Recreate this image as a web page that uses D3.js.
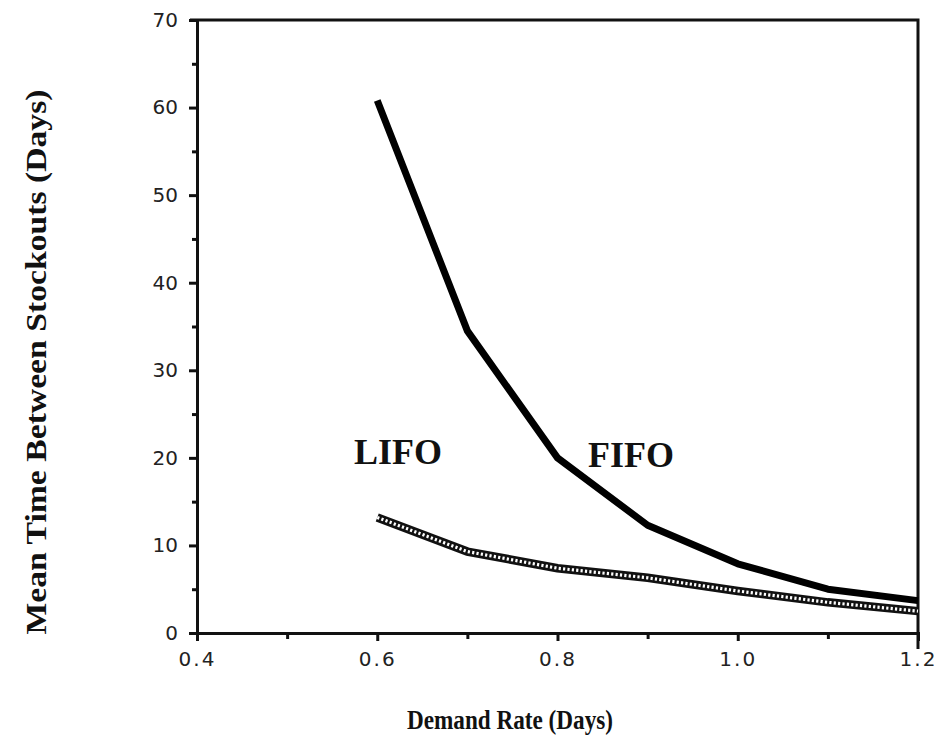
<!DOCTYPE html>
<html lang="en">
<head>
  <meta charset="UTF-8">
  <script src="https://cdn.jsdelivr.net/npm/d3@7"></script>
  <title>Stockouts</title>
  <style>
    body { margin: 0; background: white; }
    .tick text { font-family: "DejaVu Sans", sans-serif; font-size: 20px; fill: #222; }
    .title { font-family: "Liberation Serif", "Times New Roman", serif; font-weight: bold; fill: #111; }
  </style>
</head>
<body>
  <script>
    const demand = [0.6, 0.7, 0.8, 0.9, 1.0, 1.1, 1.2];
    const fifo = [60.8, 34.5, 20.0, 12.3, 7.9, 5.0, 3.7];
    const lifo = [13.2, 9.3, 7.4, 6.3, 4.8, 3.5, 2.5];
    const xTicks = [0.4, 0.6, 0.8, 1.0, 1.2];
    const yTicks = [0, 10, 20, 30, 40, 50, 60, 70];

    const W = 945, H = 744;
    const L = 197, R = 918, T = 20, B = 633;

    const svg = d3.select('body').append('svg')
      .attr('width', W)
      .attr('height', H)

    const x = d3.scaleLinear().domain([0.4, 1.2]).range([L, R]);
    const y = d3.scaleLinear().domain([0, 70]).range([B, T]);

    // frame (top + right)
    svg.append('path')
      .attr('d', `M${L - 7},${T}H${R}V${B + 16}`)
      .attr('fill', 'none').attr('stroke', '#111').attr('stroke-width', 3);

    // y axis
    svg.append('g').attr('transform', `translate(${L},0)`)
      .call(d3.axisLeft(y).tickValues(yTicks).tickSize(8).tickPadding(11).tickFormat(d3.format('d')));
    svg.append('g').attr('transform', `translate(${L},0)`)
      .call(d3.axisLeft(y).tickValues(d3.range(5, 70, 10)).tickSize(5).tickFormat(''));

    // x axis
    const xAxis = svg.append('g').attr('transform', `translate(0,${B})`)
      .call(d3.axisBottom(x).tickValues(xTicks).tickSize(8).tickPadding(11).tickFormat(d3.format('.1f')));
    svg.append('g').attr('transform', `translate(0,${B})`)
      .call(d3.axisBottom(x).tickValues([0.5, 0.7, 0.9, 1.1]).tickSize(6).tickFormat(''));

    svg.selectAll('.domain').attr('stroke', '#111').attr('stroke-width', 3);
    svg.selectAll('.tick line').attr('stroke', '#111').attr('stroke-width', 3);
    xAxis.selectAll('.tick text').attr('letter-spacing', '2px');

    const line = d3.line().x((d, i) => x(demand[i])).y(d => y(d));

    // LIFO: chain of small rings
    svg.append('path').datum(lifo)
      .attr('d', line).attr('fill', 'none')
      .attr('stroke', '#111').attr('stroke-width', 8.5);
    svg.append('path').datum(lifo)
      .attr('d', line).attr('fill', 'none')
      .attr('stroke', 'white').attr('stroke-width', 3.2)
      .attr('stroke-dasharray', '2.2 2.2');

    // FIFO
    svg.append('path').datum(fifo)
      .attr('d', line).attr('fill', 'none')
      .attr('stroke', '#000').attr('stroke-width', 7)
      .attr('stroke-linejoin', 'round');

    // series labels
    svg.append('text').attr('class', 'title')
      .attr('x', 354).attr('y', 464).attr('font-size', 36).text('LIFO');
    svg.append('text').attr('class', 'title')
      .attr('x', 588).attr('y', 467).attr('font-size', 36).text('FIFO');

    // axis titles
    svg.append('text').attr('class', 'title')
      .attr('text-anchor', 'middle').attr('font-size', 28)
      .attr('textLength', 206).attr('lengthAdjust', 'spacingAndGlyphs')
      .attr('x', 510).attr('y', 729).text('Demand Rate (Days)');
    svg.append('text').attr('class', 'title')
      .attr('text-anchor', 'middle').attr('font-size', 29)
      .attr('textLength', 545).attr('lengthAdjust', 'spacingAndGlyphs')
      .attr('transform', 'translate(46,362) rotate(-90)')
      .text('Mean Time Between Stockouts (Days)');
  </script>
</body>
</html>
